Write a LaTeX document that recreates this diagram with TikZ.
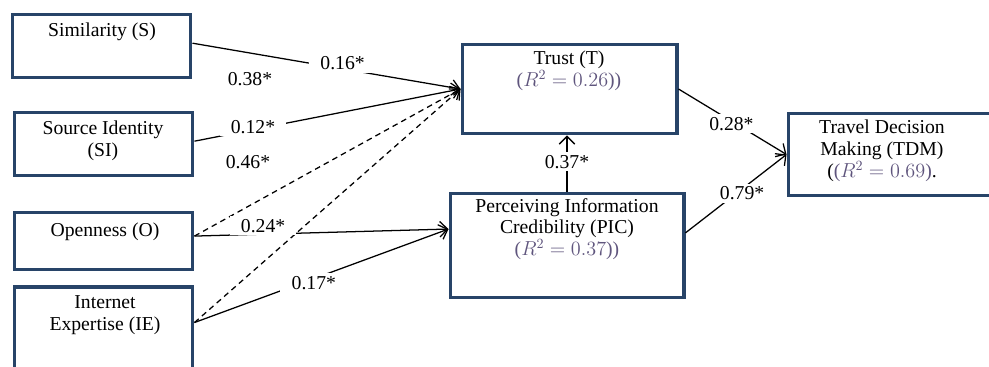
\documentclass[tikz,border=0pt]{standalone}
\usepackage{fontspec}
\setmainfont{Liberation Serif}
\usetikzlibrary{arrows.meta}
\definecolor{boxblue}{RGB}{40,68,104}
\definecolor{rsq}{RGB}{95,85,125}
\tikzset{
  factor/.style={draw=boxblue,line width=2.8pt,inner sep=0pt},
  txt/.style={align=center,font=\fontsize{14}{15.5}\selectfont},
  coef/.style={fill=white,inner xsep=8pt,inner ysep=2pt,font=\fontsize{14}{15.5}\selectfont},
  effect/.style={->,line width=0.9pt},
  spill/.style={->,line width=0.9pt,dash pattern=on 4pt off 3pt}
}
\begin{document}
\begin{tikzpicture}[x=0.025cm,y=-0.025cm,>={Straight Barb[length=5.5pt,width=11pt]}]
    \useasboundingbox (0,0) rectangle (989,367);
    % boxes
    \node[factor,minimum width=4.45cm,minimum height=1.575cm] (S) at (101.5,46) {};
    \node[factor,minimum width=4.45cm,minimum height=1.575cm] (SI) at (103.5,144) {};
    \node[factor,minimum width=4.45cm,minimum height=1.425cm] (O) at (103.5,241) {};
    \node[factor,minimum width=4.45cm,minimum height=2.55cm] (IE) at (103.5,338) {};
    \node[factor,minimum width=5.35cm,minimum height=2.225cm] (T) at (569.5,89) {};
    \node[factor,minimum width=5.825cm,minimum height=2.6cm] (PIC) at (567,245.5) {};
    \node[factor,minimum width=5.225cm,minimum height=2.05cm] (TDM) at (893,154.5) {};
    % texts
    \node[txt] (Stxt) at (102,32) {Similarity (S)};
    \node[txt] (SItxt) at (103,141) {Source Identity\\(SI)};
    \node[txt] (Otxt) at (105,232) {Openness (O)};
    \node[txt] (IEtxt) at (105,315) {Internet\\Expertise (IE)};
    \node[txt] (Ttxt) at (569,71) {Trust (T)\\\textcolor{rsq}{($R^2=0.26$))}};
    \node[txt] (PICtxt) at (567,229) {Perceiving Information\\Credibility (PIC)\\\textcolor{rsq}{($R^2=0.37$))}};
    \node[txt] (TDMtxt) at (882,151) {Travel Decision\\Making (TDM)\\(\textcolor{rsq}{($R^2=0.69$)}.};
    % dashed paths
    \draw[spill] ([yshift=3.5pt]O.east) -- (T.west);
    \draw[spill] ([yshift=11pt]IE.east) -- (T.west);
    % solid paths
    \draw[effect] ([yshift=2pt]S.east) -- node[coef,pos=0.56,yshift=4pt]{0.16*} (T.west);
    \draw[effect] ([yshift=2pt]SI.east) -- node[coef,pos=0.22,yshift=2pt]{0.12*} (T.west);
    \draw[effect] ([yshift=3.5pt]O.east) -- node[coef,pos=0.27,yshift=6pt]{0.24*} ([yshift=11.7pt]PIC.west);
    \draw[effect] ([yshift=11pt]IE.east) -- node[coef,pos=0.47,yshift=-3pt]{0.17*} ([yshift=11.7pt]PIC.west);
    \draw[effect] (PIC.north) -- node[coef,inner xsep=4pt,pos=0.53]{0.37*} (PIC.north |- T.south);
    \draw[effect] (T.east) -- node[coef,inner xsep=4pt,pos=0.49,yshift=-2pt]{0.28*} (TDM.west);
    \draw[effect] ([yshift=9pt]PIC.east) -- node[coef,inner xsep=4pt,pos=0.56,yshift=-3pt]{0.79*} (TDM.west);
    % free labels
    \node[coef] (b38) at (250,79) {0.38*};
    \node[coef] (b46) at (248,162) {0.46*};
\end{tikzpicture}
\end{document}
